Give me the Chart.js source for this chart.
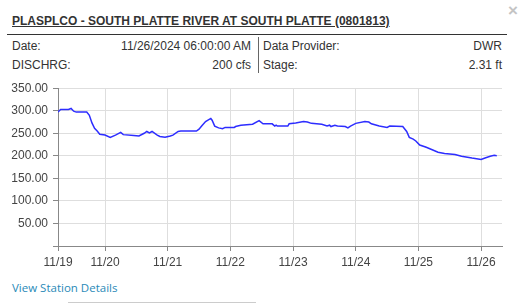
<!DOCTYPE html>
<html>
<head>
<meta charset="utf-8">
<script src="https://cdn.jsdelivr.net/npm/chart.js@4/dist/chart.umd.min.js"></script>
<style>
  html, body { margin:0; padding:0; background:#fff; }
  body { width:523px; height:303px; position:relative; overflow:hidden;
         font-family:'Liberation Sans', Arial, sans-serif; font-size:12px; color:#333; }
  .abs { position:absolute; line-height:14px; white-space:nowrap; }
  #title { left:12px; top:14px; font-weight:bold; text-decoration:underline; color:#333; }
  #rule { left:7px; top:34px; width:500px; height:1px; background:#333; }
  #vdiv { left:258px; top:37px; width:1px; height:36px; background:#666; }
  .r { text-align:right; }
  #close { left:508px; top:1px; font-size:17px; line-height:20px; color:#c4c4c4; font-weight:bold; }
  #link { left:12px; top:281px; color:#2a8ab8; font-family:'Open Sans','DejaVu Sans',sans-serif; font-size:11.5px; }
  #bline { left:68px; top:302px; width:188px; height:1px; background:#ccc; }
  #wrap { position:absolute; left:0; top:76px; width:510px; height:196px; }
</style>
</head>
<body>
<div class="abs" id="close">×</div>
<div class="abs" id="title">PLASPLCO - SOUTH PLATTE RIVER AT SOUTH PLATTE (0801813)</div>
<div class="abs" id="rule"></div>
<div class="abs" style="left:12px;top:39px;">Date:</div>
<div class="abs r" style="left:100px;top:39px;width:151px;">11/26/2024 06:00:00 AM</div>
<div class="abs" style="left:12px;top:58px;">DISCHRG:</div>
<div class="abs r" style="left:100px;top:58px;width:151px;">200 cfs</div>
<div class="abs" id="vdiv"></div>
<div class="abs" style="left:263px;top:39px;">Data Provider:</div>
<div class="abs r" style="left:400px;top:39px;width:102px;">DWR</div>
<div class="abs" style="left:263px;top:58px;">Stage:</div>
<div class="abs r" style="left:400px;top:58px;width:102px;">2.31 ft</div>
<div id="wrap"><canvas id="c" width="510" height="196"></canvas></div>
<div class="abs" id="link">View Station Details</div>
<div class="abs" id="bline"></div>
<script>
// Observation times (MM/DD HH:MM, Nov 2024) and discharge values (cfs)
const times = [
  "11/19 06:00","11/19 07:00","11/19 10:00","11/19 11:00","11/19 12:00","11/19 13:00","11/19 17:00","11/19 18:00",
  "11/19 19:00","11/19 20:00","11/19 21:00","11/19 22:00","11/20 00:00","11/20 02:00","11/20 04:00","11/20 06:00",
  "11/20 07:00","11/20 11:00","11/20 13:00","11/20 15:00","11/20 16:00","11/20 17:00","11/20 18:00","11/20 20:00",
  "11/20 21:00","11/20 23:00","11/21 01:00","11/21 02:00","11/21 04:00","11/21 05:00","11/21 11:00","11/21 12:00",
  "11/21 13:00","11/21 14:30","11/21 16:30","11/21 17:00","11/21 18:00","11/21 19:30","11/21 21:00","11/21 22:00",
  "11/22 01:30","11/22 02:00","11/22 04:00","11/22 08:30","11/22 11:00","11/22 12:30","11/22 16:00","11/22 17:00",
  "11/22 17:30","11/22 18:00","11/22 22:00","11/22 22:30","11/23 01:00","11/23 04:00","11/23 05:30","11/23 07:00",
  "11/23 11:00","11/23 13:00","11/23 14:00","11/23 14:30","11/23 16:00","11/23 17:00","11/23 20:00","11/23 21:00",
  "11/23 22:00","11/24 00:00","11/24 03:30","11/24 05:00","11/24 06:00","11/24 09:00","11/24 12:00","11/24 13:00",
  "11/24 18:00","11/24 19:30","11/24 20:30","11/24 22:00","11/24 23:00","11/25 00:30","11/25 03:00","11/25 05:30",
  "11/25 07:30","11/25 10:00","11/25 14:00","11/25 16:30","11/25 20:30","11/26 00:00","11/26 01:30","11/26 03:30",
  "11/26 05:00","11/26 06:00"
];
const discharge = [
  297,303,303,305,299,297,297,290,
  273,261,255,248,246,241,246,252,
  247,245,244,250,254,251,254,246,
  243,241,244,246,254,255,255,259,
  266,276,283,279,266,262,260,263,
  263,265,268,270,278,271,271,266,
  268,266,266,271,273,276,275,272,
  270,266,268,265,268,266,265,262,
  266,272,276,275,271,266,263,266,
  265,254,241,237,233,224,219,213,
  208,205,203,199,195,192,195,199,
  201,200
];
const dayTicks = ["11/19","11/20","11/21","11/22","11/23","11/24","11/25","11/26"];
const yTicks = [0,50,100,150,200,250,300,350];
const axisStart = "11/19 06:00";
const axisEnd = "11/26 08:00";

function toHours(s){
  const [md, hm] = s.split(" ");
  const day = parseInt(md.split("/")[1],10);
  const [h, m] = hm.split(":").map(Number);
  return (day-19)*24 + h + m/60;
}
const pts = times.map((t,i)=>({x:toHours(t), y:discharge[i]}));
const tickVals = dayTicks.map((d,i)=> i===0 ? toHours(axisStart) : toHours(d+" 00:00"));

const FONT = "'Liberation Sans', Arial, sans-serif";
new Chart(document.getElementById('c'), {
  type:'line',
  data:{ datasets:[{ data:pts, borderColor:'rgb(45,45,255)', borderWidth:1.5, pointRadius:0, tension:0, fill:false }] },
  options:{
    responsive:false, animation:false, devicePixelRatio:1,
    layout:{ padding:{ top:10, right:8, left:0, bottom:0 } },
    plugins:{ legend:{display:false}, tooltip:{enabled:false} },
    scales:{
      x:{
        type:'linear', min:toHours(axisStart), max:toHours(axisEnd),
        afterBuildTicks:(s)=>{ s.ticks = tickVals.map(v=>({value:v})); },
        afterFit:(s)=>{ s.height = 26; },
        grid:{ color:'#dedede', tickLength:5, tickColor:'#888', lineWidth:1 },
        border:{ color:'#888', width:1 },
        ticks:{ autoSkip:false, maxRotation:0, padding:4, color:'#444', font:{family:FONT, size:12},
          callback:(v)=>{ const i = tickVals.indexOf(v); return i>=0 ? dayTicks[i] : ''; } }
      },
      y:{
        min:0, max:350,
        afterBuildTicks:(s)=>{ s.ticks = yTicks.map(v=>({value:v})); },
        afterFit:(s)=>{ s.width = 58; },
        grid:{ color:'#dedede', tickLength:5, tickColor:'#888', lineWidth:1 },
        border:{ color:'#888', width:1 },
        ticks:{ padding:5, color:'#444', font:{family:FONT, size:12},
          callback:(v)=> v===0 ? '' : v.toFixed(2) }
      }
    }
  }
});
</script>
</body>
</html>
